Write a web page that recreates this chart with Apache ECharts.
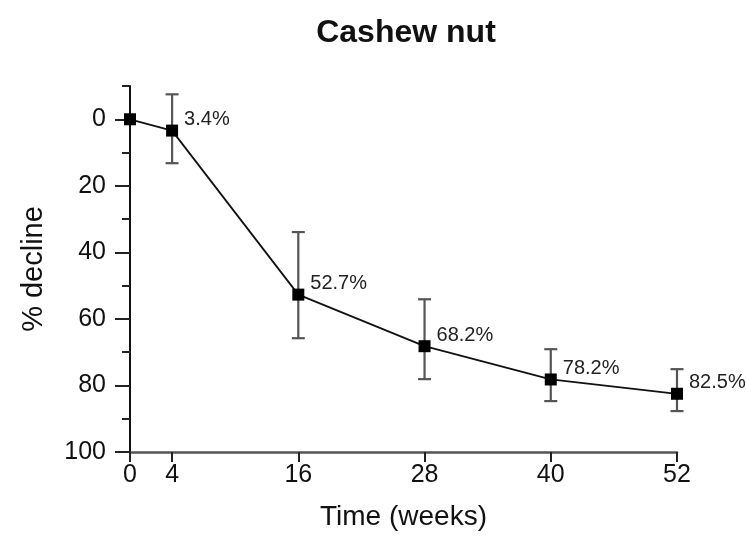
<!DOCTYPE html>
<html>
<head>
<meta charset="utf-8">
<script src="https://cdn.jsdelivr.net/npm/echarts@6/dist/echarts.min.js"></script>
<style>html,body{margin:0;padding:0;background:#fff}#c{width:746px;height:536px}</style>
</head>
<body>
<div id="c"></div>
<script>
const weeks = [0, 4, 16, 28, 40, 52];
const decline = [0, 3.4, 52.7, 68.2, 78.2, 82.5];
const errLow = [null, -7.5, 33.9, 54.1, 69.1, 75.1];
const errHigh = [null, 13.2, 65.8, 78.1, 84.7, 87.7];
const xTicks = [0, 4, 16, 28, 40, 52];
const yTicks = [0, 20, 40, 60, 80, 100];
const yMinorTicks = [-10, 10, 30, 50, 70, 90];

const FONT = 'Arial, "Liberation Sans", Helvetica, sans-serif';
const chart = echarts.init(document.getElementById('c'));

const lineData = weeks.map((w, i) => [w, decline[i]]);
const errData = [];
weeks.forEach((w, i) => { if (errLow[i] !== null) errData.push([w, errLow[i], errHigh[i]]); });

chart.setOption({
  animation: false,
  backgroundColor: '#fff',
  title: {
    text: 'Cashew nut', left: 401, top: 12, textAlign: 'center',
    textStyle: { fontFamily: FONT, fontSize: 32, fontWeight: 'bold', color: '#111' }
  },
  grid: { left: 130, right: 69, top: 86, bottom: 84 },
  xAxis: {
    type: 'value', min: 0, max: 52,
    name: 'Time (weeks)', nameLocation: 'middle', nameGap: 51,
    nameTextStyle: { fontFamily: FONT, fontSize: 28, color: '#111' },
    axisLine: { show: true, onZero: false, lineStyle: { color: '#555', width: 2.5 } },
    axisTick: { show: true, customValues: xTicks, length: 10, lineStyle: { color: '#222', width: 2 } },
    axisLabel: { customValues: xTicks, fontFamily: FONT, fontSize: 25, color: '#111', margin: 11 },
    splitLine: { show: false }
  },
  yAxis: [{
    type: 'value', min: -10, max: 100, inverse: true, position: 'left',
    name: '% decline', nameLocation: 'middle', nameGap: 82, nameRotate: 90,
    nameTextStyle: { fontFamily: FONT, fontSize: 29, color: '#111' },
    axisLine: { show: true, onZero: false, lineStyle: { color: '#111', width: 2 } },
    axisTick: { show: true, customValues: yTicks, length: 15, lineStyle: { color: '#222', width: 2 } },
    axisLabel: { customValues: yTicks, fontFamily: FONT, fontSize: 25, color: '#111', margin: 24 },
    splitLine: { show: false }
  }, {
    type: 'value', min: -10, max: 100, inverse: true, position: 'left',
    axisLine: { show: false, onZero: false },
    axisTick: { show: true, customValues: yMinorTicks, length: 8, lineStyle: { color: '#222', width: 2 } },
    axisLabel: { show: false },
    splitLine: { show: false }
  }],
  series: [{
    type: 'custom',
    z: 1,
    data: errData,
    encode: { x: 0, y: [1, 2] },
    renderItem: function (params, api) {
      const x = api.value(0);
      const p1 = api.coord([x, api.value(1)]);
      const p2 = api.coord([x, api.value(2)]);
      const hw = 6.5;
      const st = { stroke: '#555', lineWidth: 2.2 };
      return { type: 'group', children: [
        { type: 'line', shape: { x1: p1[0], y1: p1[1], x2: p2[0], y2: p2[1] }, style: st },
        { type: 'line', shape: { x1: p1[0] - hw, y1: p1[1], x2: p1[0] + hw, y2: p1[1] }, style: st },
        { type: 'line', shape: { x1: p2[0] - hw, y1: p2[1], x2: p2[0] + hw, y2: p2[1] }, style: st }
      ]};
    }
  }, {
    type: 'line',
    z: 3,
    data: lineData,
    symbol: 'rect',
    symbolSize: 12,
    itemStyle: { color: '#000' },
    lineStyle: { color: '#111', width: 1.8 },
    label: {
      show: true, position: 'right', distance: 5, offset: [1, -11],
      fontFamily: FONT, fontSize: 20, color: '#222',
      formatter: function (p) { return p.value[1] === 0 ? '' : p.value[1].toFixed(1) + '%'; }
    }
  }]
});
</script>
</body>
</html>
